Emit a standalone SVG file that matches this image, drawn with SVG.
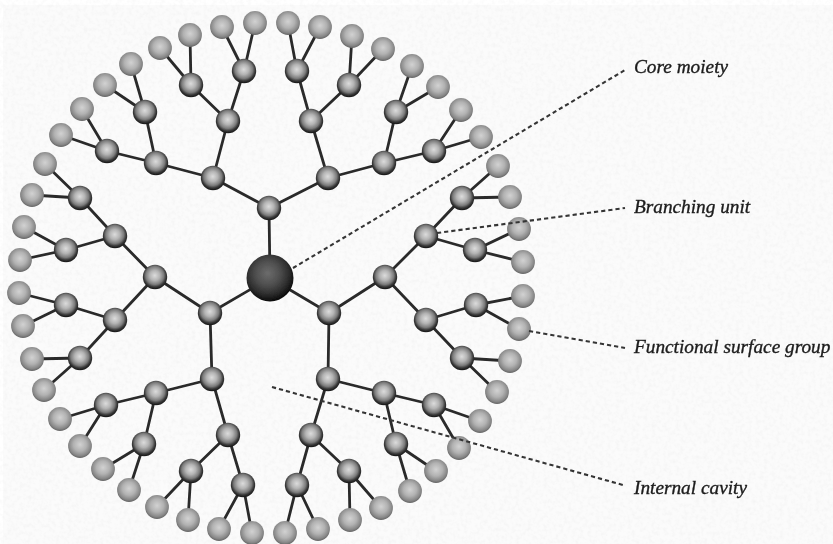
<svg xmlns="http://www.w3.org/2000/svg" width="833" height="544" viewBox="0 0 833 544">
<style>
.b{stroke:#2a2a2a;stroke-width:2.8;fill:none;stroke-linecap:round}
.d{stroke:#363636;stroke-width:2.1;fill:none;stroke-dasharray:4.2 3}
.u{fill:url(#gu)}
.l{fill:url(#gl)}
.c{fill:url(#gc)}
text{font-family:"Liberation Serif","Times New Roman",serif;font-style:italic;font-size:19.3px;fill:#1c1c1c;stroke:#1c1c1c;stroke-width:.35}
</style>
<defs>
<radialGradient id="gu" cx="49%" cy="44%" r="54%"><stop offset="0" stop-color="#dcdcdc"/><stop offset=".38" stop-color="#b4b4b4"/><stop offset=".68" stop-color="#7c7c7c"/><stop offset=".86" stop-color="#3a3a3a"/><stop offset="1" stop-color="#1c1c1c"/></radialGradient>
<radialGradient id="gl" cx="50%" cy="44%" r="55%"><stop offset="0" stop-color="#d2d2d2"/><stop offset=".5" stop-color="#b2b2b2"/><stop offset=".85" stop-color="#878787"/><stop offset="1" stop-color="#686868"/></radialGradient>
<radialGradient id="gc" cx="45%" cy="40%" r="58%"><stop offset="0" stop-color="#6c6c6c"/><stop offset=".45" stop-color="#4e4e4e"/><stop offset=".8" stop-color="#2a2a2a"/><stop offset="1" stop-color="#0e0e0e"/></radialGradient>
<filter id="soft" x="0" y="0" width="833" height="544" filterUnits="userSpaceOnUse"><feGaussianBlur stdDeviation="0.5"/></filter>
<filter id="grain" x="0" y="0" width="833" height="544" filterUnits="userSpaceOnUse"><feTurbulence type="fractalNoise" baseFrequency="0.25" numOctaves="2" seed="3"/><feColorMatrix values="0 0 0 0 0.55  0 0 0 0 0.55  0 0 0 0 0.55  0.5 0 0 0 -0.2"/></filter>
</defs>
<rect width="833" height="544" fill="#fff"/>
<rect x="3" y="5" width="830" height="539" fill="#fbfbfb"/>
<rect x="3" y="5" width="830" height="539" filter="url(#grain)" opacity=".45"/>
<g filter="url(#soft)">
<g id="connectors" class="b">
<path d="M270 278L269 208M269 208L213 178M269 208L328 178M213 178L228 121M213 178L156 163M228 121L244 71M228 121L191 85M156 163L145 112M156 163L107 151M244 71L222 27M244 71L255 23M191 85L160 48M191 85L190 35M145 112L131 64M145 112L105 85M107 151L82 109M107 151L61 135"/>
<path d="M328 178L311 121M328 178L384 163M311 121L297 71M311 121L349 85M384 163L396 112M384 163L434 151M297 71L288 23M297 71L320 27M349 85L352 36M349 85L383 49M396 112L412 66M396 112L438 87M434 151L461 110M434 151L481 137"/>
<path d="M270 278L329 313M329 313L385 277M329 313L328 379M385 277L426 236M385 277L426 320M426 236L462 198M426 236L475 250M426 320L476 305M426 320L462 358M462 198L498 166M462 198L510 197M475 250L519 229M475 250L523 262M476 305L523 296M476 305L519 329M462 358L510 361M462 358L497 392"/>
<path d="M328 379L384 393M328 379L311 435M384 393L434 405M384 393L396 444M311 435L349 471M311 435L297 485M434 405L480 421M434 405L459 448M396 444L436 471M396 444L410 491M349 471L381 508M349 471L350 520M297 485L318 529M297 485L285 533"/>
<path d="M270 278L210 313M210 313L155 277M210 313L212 379M155 277L115 236M155 277L115 320M115 236L80 198M115 236L66 250M115 320L66 305M115 320L80 358M80 198L45 164M80 198L32 195M66 250L24 227M66 250L20 260M66 305L19 293M66 305L23 326M80 358L32 359M80 358L44 390"/>
<path d="M212 379L156 393M212 379L228 435M156 393L106 405M156 393L144 444M228 435L191 471M228 435L243 485M106 405L60 419M106 405L80 446M144 444L103 469M144 444L129 490M191 471L157 507M191 471L188 520M243 485L219 529M243 485L252 533"/>
</g>
<g id="nodes">
<g id="core"><circle class="c" cx="270" cy="278" r="23.5"/></g>
<g id="u1"><circle class="u" cx="269" cy="208" r="12.2"/></g>
<g id="u2"><circle class="u" cx="329" cy="313" r="12.2"/></g>
<g id="u3"><circle class="u" cx="210" cy="313" r="12.2"/></g>
<g id="u4"><circle class="u" cx="213" cy="178" r="12.2"/></g>
<g id="u5"><circle class="u" cx="328" cy="178" r="12.2"/></g>
<g id="u6"><circle class="u" cx="385" cy="277" r="12.2"/></g>
<g id="u7"><circle class="u" cx="328" cy="379" r="12.2"/></g>
<g id="u8"><circle class="u" cx="155" cy="277" r="12.2"/></g>
<g id="u9"><circle class="u" cx="212" cy="379" r="12.2"/></g>
<g id="u10"><circle class="u" cx="228" cy="121" r="12.2"/></g>
<g id="u11"><circle class="u" cx="156" cy="163" r="12.2"/></g>
<g id="u12"><circle class="u" cx="311" cy="121" r="12.2"/></g>
<g id="u13"><circle class="u" cx="384" cy="163" r="12.2"/></g>
<g id="u14"><circle class="u" cx="426" cy="236" r="12.2"/></g>
<g id="u15"><circle class="u" cx="426" cy="320" r="12.2"/></g>
<g id="u16"><circle class="u" cx="384" cy="393" r="12.2"/></g>
<g id="u17"><circle class="u" cx="311" cy="435" r="12.2"/></g>
<g id="u18"><circle class="u" cx="115" cy="236" r="12.2"/></g>
<g id="u19"><circle class="u" cx="115" cy="320" r="12.2"/></g>
<g id="u20"><circle class="u" cx="156" cy="393" r="12.2"/></g>
<g id="u21"><circle class="u" cx="228" cy="435" r="12.2"/></g>
<g id="u22"><circle class="u" cx="244" cy="71" r="12.2"/></g>
<g id="u23"><circle class="u" cx="191" cy="85" r="12.2"/></g>
<g id="u24"><circle class="u" cx="145" cy="112" r="12.2"/></g>
<g id="u25"><circle class="u" cx="107" cy="151" r="12.2"/></g>
<g id="u26"><circle class="u" cx="297" cy="71" r="12.2"/></g>
<g id="u27"><circle class="u" cx="349" cy="85" r="12.2"/></g>
<g id="u28"><circle class="u" cx="396" cy="112" r="12.2"/></g>
<g id="u29"><circle class="u" cx="434" cy="151" r="12.2"/></g>
<g id="u30"><circle class="u" cx="462" cy="198" r="12.2"/></g>
<g id="u31"><circle class="u" cx="475" cy="250" r="12.2"/></g>
<g id="u32"><circle class="u" cx="476" cy="305" r="12.2"/></g>
<g id="u33"><circle class="u" cx="462" cy="358" r="12.2"/></g>
<g id="u34"><circle class="u" cx="434" cy="405" r="12.2"/></g>
<g id="u35"><circle class="u" cx="396" cy="444" r="12.2"/></g>
<g id="u36"><circle class="u" cx="349" cy="471" r="12.2"/></g>
<g id="u37"><circle class="u" cx="297" cy="485" r="12.2"/></g>
<g id="u38"><circle class="u" cx="80" cy="198" r="12.2"/></g>
<g id="u39"><circle class="u" cx="66" cy="250" r="12.2"/></g>
<g id="u40"><circle class="u" cx="66" cy="305" r="12.2"/></g>
<g id="u41"><circle class="u" cx="80" cy="358" r="12.2"/></g>
<g id="u42"><circle class="u" cx="106" cy="405" r="12.2"/></g>
<g id="u43"><circle class="u" cx="144" cy="444" r="12.2"/></g>
<g id="u44"><circle class="u" cx="191" cy="471" r="12.2"/></g>
<g id="u45"><circle class="u" cx="243" cy="485" r="12.2"/></g>
<g id="s1"><circle class="l" cx="222" cy="27" r="11.9"/></g>
<g id="s2"><circle class="l" cx="255" cy="23" r="11.9"/></g>
<g id="s3"><circle class="l" cx="160" cy="48" r="11.9"/></g>
<g id="s4"><circle class="l" cx="190" cy="35" r="11.9"/></g>
<g id="s5"><circle class="l" cx="131" cy="64" r="11.9"/></g>
<g id="s6"><circle class="l" cx="105" cy="85" r="11.9"/></g>
<g id="s7"><circle class="l" cx="82" cy="109" r="11.9"/></g>
<g id="s8"><circle class="l" cx="61" cy="135" r="11.9"/></g>
<g id="s9"><circle class="l" cx="288" cy="23" r="11.9"/></g>
<g id="s10"><circle class="l" cx="320" cy="27" r="11.9"/></g>
<g id="s11"><circle class="l" cx="352" cy="36" r="11.9"/></g>
<g id="s12"><circle class="l" cx="383" cy="49" r="11.9"/></g>
<g id="s13"><circle class="l" cx="412" cy="66" r="11.9"/></g>
<g id="s14"><circle class="l" cx="438" cy="87" r="11.9"/></g>
<g id="s15"><circle class="l" cx="461" cy="110" r="11.9"/></g>
<g id="s16"><circle class="l" cx="481" cy="137" r="11.9"/></g>
<g id="s17"><circle class="l" cx="498" cy="166" r="11.9"/></g>
<g id="s18"><circle class="l" cx="510" cy="197" r="11.9"/></g>
<g id="s19"><circle class="l" cx="519" cy="229" r="11.9"/></g>
<g id="s20"><circle class="l" cx="523" cy="262" r="11.9"/></g>
<g id="s21"><circle class="l" cx="523" cy="296" r="11.9"/></g>
<g id="s22"><circle class="l" cx="519" cy="329" r="11.9"/></g>
<g id="s23"><circle class="l" cx="510" cy="361" r="11.9"/></g>
<g id="s24"><circle class="l" cx="497" cy="392" r="11.9"/></g>
<g id="s25"><circle class="l" cx="480" cy="421" r="11.9"/></g>
<g id="s26"><circle class="l" cx="459" cy="448" r="11.9"/></g>
<g id="s27"><circle class="l" cx="436" cy="471" r="11.9"/></g>
<g id="s28"><circle class="l" cx="410" cy="491" r="11.9"/></g>
<g id="s29"><circle class="l" cx="381" cy="508" r="11.9"/></g>
<g id="s30"><circle class="l" cx="350" cy="520" r="11.9"/></g>
<g id="s31"><circle class="l" cx="318" cy="529" r="11.9"/></g>
<g id="s32"><circle class="l" cx="285" cy="533" r="11.9"/></g>
<g id="s33"><circle class="l" cx="252" cy="533" r="11.9"/></g>
<g id="s34"><circle class="l" cx="219" cy="529" r="11.9"/></g>
<g id="s35"><circle class="l" cx="188" cy="520" r="11.9"/></g>
<g id="s36"><circle class="l" cx="157" cy="507" r="11.9"/></g>
<g id="s37"><circle class="l" cx="129" cy="490" r="11.9"/></g>
<g id="s38"><circle class="l" cx="103" cy="469" r="11.9"/></g>
<g id="s39"><circle class="l" cx="80" cy="446" r="11.9"/></g>
<g id="s40"><circle class="l" cx="60" cy="419" r="11.9"/></g>
<g id="s41"><circle class="l" cx="44" cy="390" r="11.9"/></g>
<g id="s42"><circle class="l" cx="32" cy="359" r="11.9"/></g>
<g id="s43"><circle class="l" cx="23" cy="326" r="11.9"/></g>
<g id="s44"><circle class="l" cx="19" cy="293" r="11.9"/></g>
<g id="s45"><circle class="l" cx="20" cy="260" r="11.9"/></g>
<g id="s46"><circle class="l" cx="24" cy="227" r="11.9"/></g>
<g id="s47"><circle class="l" cx="32" cy="195" r="11.9"/></g>
<g id="s48"><circle class="l" cx="45" cy="164" r="11.9"/></g>
</g>
<g id="leaders" class="d">
<path d="M293 268L625 70"/>
<path d="M437 233L625 208"/>
<path d="M529 331L625 348"/>
<path d="M272 387L623 485"/>
</g>
<g id="labels">
<text x="634" y="73">Core moiety</text>
<text x="634" y="213">Branching unit</text>
<text x="634" y="353">Functional surface group</text>
<text x="634" y="494">Internal cavity</text>
</g>
</g>
</svg>
